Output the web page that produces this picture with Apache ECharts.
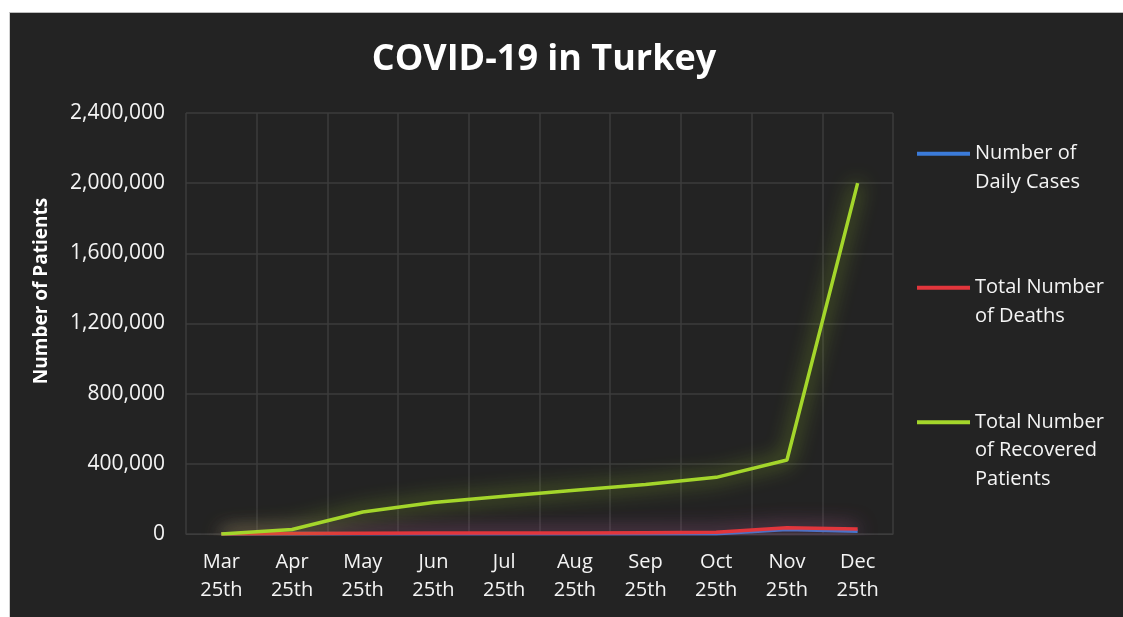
<!DOCTYPE html>
<html>
<head>
<meta charset="utf-8">
<script src="https://cdn.jsdelivr.net/npm/echarts@6/dist/echarts.min.js"></script>
<style>
  html, body { margin: 0; padding: 0; background: #ffffff; }
  #bg { position: absolute; left: 9px; top: 12px; width: 1114px; height: 605px; background: #232323; border-top: 1px solid #bdbdbd; border-left: 1px solid #d0d0d0; box-sizing: border-box; }
  #chart { position: absolute; left: 0; top: 0; width: 1123px; height: 617px; }
</style>
</head>
<body>
<div id="bg"></div>
<div id="chart"></div>
<script>
// ---- data ----
const categories = ['Mar\n25th', 'Apr\n25th', 'May\n25th', 'Jun\n25th', 'Jul\n25th', 'Aug\n25th', 'Sep\n25th', 'Oct\n25th', 'Nov\n25th', 'Dec\n25th'];
const dailyCases = [343, 2861, 948, 1458, 919, 1309, 1767, 2061, 25000, 15000];
const totalDeaths = [59, 2706, 4369, 5001, 5645, 6058, 7785, 9584, 36000, 28000];
const recoveredPatients = [0, 26000, 125000, 180000, 215000, 250000, 282000, 323000, 422000, 2000000];
const seriesNames = ['Number of Daily Cases', 'Total Number of Deaths', 'Total Number of Recovered Patients'];
const legendLabels = [' \nNumber of\nDaily Cases', ' \nTotal Number\nof Deaths', ' \n \nTotal Number\nof Recovered\nPatients'];
const yTicks = { min: 0, max: 2400000, interval: 400000 };
const titleText = 'COVID-19 in Turkey';
const yAxisTitle = 'Number of Patients';

const colors = ['#3b7bd9', '#e2363c', '#a4d62b'];
const glow = ['rgba(59,123,217,0.9)', 'rgba(226,54,60,0.9)', 'rgba(164,214,43,0.95)'];
const FONT = 'Open Sans';

const chart = echarts.init(document.getElementById('chart'), null, { renderer: 'canvas' });

function mkSeries(i, data, z) {
  return {
    name: seriesNames[i],
    type: 'line',
    data: data,
    symbol: 'none',
    z: z,
    lineStyle: { color: colors[i], width: 3.5, shadowBlur: 20, shadowColor: glow[i] },
    itemStyle: { color: colors[i] },
    emphasis: { disabled: true }
  };
}

function mkLegend(i, top) {
  return {
    data: [seriesNames[i]],
    left: 917,
    top: top,
    padding: 0,
    orient: 'vertical',
    icon: 'rect',
    itemWidth: 53,
    itemHeight: 4,
    itemGap: 0,
    itemStyle: { color: colors[i], borderWidth: 0, shadowBlur: 0 },
    formatter: function () { return legendLabels[i]; },
    textStyle: { color: '#f4f4f4', fontSize: 20, fontFamily: FONT, lineHeight: 28.5 }
  };
}

chart.setOption({
  backgroundColor: 'transparent',
  animation: false,
  textStyle: { fontFamily: FONT },
  title: {
    text: titleText,
    left: 539,
    textAlign: 'center',
    top: 37,
    textStyle: { color: '#ffffff', fontSize: 36, fontWeight: 'bold', fontFamily: FONT }
  },
  legend: [mkLegend(0, 111), mkLegend(1, 245), mkLegend(2, 351)],
  grid: { left: 186, top: 113, right: 230, bottom: 83 },
  xAxis: {
    type: 'category',
    data: categories,
    boundaryGap: true,
    axisLine: { show: true, lineStyle: { color: '#3d3d3d', width: 1 } },
    axisTick: { show: false },
    splitLine: { show: true, lineStyle: { color: '#3d3d3d', width: 1.5 } },
    axisLabel: { color: '#f4f4f4', fontSize: 20, fontFamily: FONT, lineHeight: 28.5, margin: 14, interval: 0 }
  },
  yAxis: {
    type: 'value',
    min: yTicks.min,
    max: yTicks.max,
    interval: yTicks.interval,
    axisLine: { show: false },
    axisTick: { show: false },
    splitLine: { show: true, lineStyle: { color: '#3d3d3d', width: 1.5 } },
    axisLabel: {
      color: '#f4f4f4', fontSize: 21, fontFamily: FONT, margin: 21,
      formatter: function (v) { return v.toLocaleString('en-US'); }
    }
  },
  graphic: [{
    type: 'text',
    x: 42,
    y: 291,
    rotation: Math.PI / 2,
    style: {
      text: yAxisTitle,
      fill: '#ffffff',
      fontSize: 19,
      fontWeight: 'bold',
      fontFamily: FONT,
      textAlign: 'center',
      textVerticalAlign: 'middle'
    }
  }],
  series: [
    mkSeries(0, dailyCases, 2),
    mkSeries(1, totalDeaths, 3),
    mkSeries(2, recoveredPatients, 4)
  ]
});
</script>
</body>
</html>
